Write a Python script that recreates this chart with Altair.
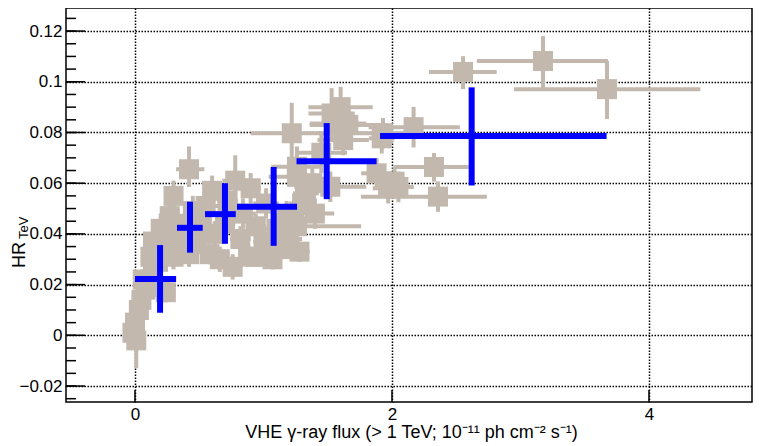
import altair as alt
import pandas as pd

# ---------------- data ----------------
# grey: individual measurements (x = flux, y = HR_TeV) with asymmetric errors
grey_x = [-0.02, 0.01, 0.00, 0.03, 0.05, 0.08, 0.06, 0.11, 0.14, 0.19,
          0.24, 0.12, 0.18, 0.22, 0.14, 0.20, 0.27, 0.30, 0.27, 0.33,
          0.30, 0.36, 0.42, 0.40, 0.45, 0.42, 0.48, 0.52, 0.55, 0.58,
          0.62, 0.60, 0.66, 0.70, 0.72, 0.76, 0.78, 0.82, 0.84, 0.88,
          0.90, 0.94, 0.97, 1.00, 1.02, 1.07, 1.10, 1.14, 1.18, 1.20,
          1.26, 1.28, 1.30, 1.26, 1.26, 1.22, 1.33, 1.40, 1.38, 1.45,
          1.52, 1.53, 1.58, 1.60, 1.62, 1.66, 1.88, 1.93, 1.92, 1.97,
          2.05, 2.02, 2.168, 2.327, 2.358, 2.553, 3.175, 3.673]
grey_y = [0.001, -0.002, 0.005, 0.010, 0.014, 0.018, 0.022, 0.021, 0.026, 0.019,
          0.017, 0.031, 0.029, 0.034, 0.037, 0.042, 0.039, 0.031, 0.047, 0.044,
          0.055, 0.035, 0.032, 0.040, 0.049, 0.0655, 0.036, 0.044, 0.051, 0.032,
          0.040, 0.057, 0.030, 0.044, 0.053, 0.027, 0.061, 0.038, 0.048, 0.031,
          0.058, 0.043, 0.031, 0.037, 0.052, 0.030, 0.042, 0.034, 0.047, 0.038,
          0.043, 0.033, 0.052, 0.0625, 0.0665, 0.0797, 0.056, 0.048, 0.060, 0.072,
          0.0586, 0.0875, 0.0835, 0.090, 0.077, 0.083, 0.0639, 0.0797, 0.0777, 0.058,
          0.0585, 0.0606, 0.0821, 0.0664, 0.0547, 0.1039, 0.1082, 0.0971]
grey_exl = [0.03, 0.02, 0.03, 0.03, 0.04, 0.04, 0.03, 0.05, 0.05, 0.04,
            0.05, 0.04, 0.05, 0.06, 0.04, 0.05, 0.06, 0.06, 0.06, 0.07,
            0.05, 0.06, 0.07, 0.06, 0.07, 0.10, 0.06, 0.07, 0.10, 0.07,
            0.08, 0.07, 0.06, 0.08, 0.08, 0.05, 0.10, 0.08, 0.10, 0.06,
            0.08, 0.08, 0.06, 0.08, 0.10, 0.07, 0.10, 0.08, 0.12, 0.10,
            0.10, 0.08, 0.10, 0.22, 0.20, 0.32, 0.10, 0.15, 0.12, 0.20,
            0.28, 0.18, 0.22, 0.25, 0.20, 0.30, 0.12, 0.25, 0.10, 0.12,
            0.12, 0.10, 0.35, 0.31, 0.60, 0.265, 0.515, 0.723]
grey_exh = [0.03, 0.02, 0.03, 0.03, 0.04, 0.04, 0.03, 0.05, 0.05, 0.04,
            0.05, 0.04, 0.05, 0.06, 0.04, 0.05, 0.06, 0.06, 0.06, 0.07,
            0.05, 0.06, 0.07, 0.06, 0.07, 0.12, 0.06, 0.07, 0.10, 0.07,
            0.08, 0.07, 0.06, 0.08, 0.08, 0.05, 0.10, 0.08, 0.10, 0.06,
            0.08, 0.08, 0.06, 0.08, 0.10, 0.07, 0.10, 0.08, 0.12, 0.10,
            0.50, 0.08, 0.10, 0.14, 0.20, 0.30, 0.10, 0.15, 0.12, 0.20,
            0.28, 0.18, 0.22, 0.25, 0.20, 0.30, 0.12, 0.25, 0.10, 0.12,
            0.12, 0.10, 0.36, 0.27, 0.38, 0.262, 0.505, 0.727]
grey_eyl = [0.004, 0.011, 0.005, 0.005, 0.005, 0.005, 0.004, 0.005, 0.006, 0.005,
            0.004, 0.005, 0.005, 0.005, 0.005, 0.006, 0.006, 0.005, 0.006, 0.006,
            0.006, 0.005, 0.005, 0.006, 0.006, 0.007, 0.005, 0.006, 0.006, 0.004,
            0.005, 0.006, 0.005, 0.006, 0.006, 0.005, 0.008, 0.005, 0.006, 0.004,
            0.006, 0.005, 0.004, 0.005, 0.006, 0.004, 0.005, 0.004, 0.006, 0.005,
            0.005, 0.004, 0.006, 0.008, 0.008, 0.012, 0.006, 0.006, 0.006, 0.008,
            0.006, 0.010, 0.008, 0.008, 0.006, 0.006, 0.006, 0.006, 0.006, 0.006,
            0.006, 0.006, 0.008, 0.0058, 0.006, 0.0068, 0.011, 0.0118]
grey_eyh = [0.004, 0.005, 0.005, 0.005, 0.005, 0.005, 0.004, 0.005, 0.006, 0.005,
            0.004, 0.005, 0.005, 0.005, 0.005, 0.006, 0.006, 0.005, 0.006, 0.006,
            0.006, 0.005, 0.005, 0.006, 0.006, 0.009, 0.005, 0.006, 0.006, 0.004,
            0.005, 0.006, 0.005, 0.006, 0.006, 0.005, 0.010, 0.005, 0.006, 0.004,
            0.006, 0.005, 0.004, 0.005, 0.006, 0.004, 0.005, 0.004, 0.006, 0.005,
            0.005, 0.004, 0.006, 0.008, 0.008, 0.012, 0.006, 0.006, 0.006, 0.008,
            0.006, 0.010, 0.008, 0.008, 0.006, 0.006, 0.006, 0.006, 0.006, 0.006,
            0.006, 0.006, 0.008, 0.0055, 0.006, 0.0062, 0.0098, 0.0111]

# blue: binned averages
blue_x = [0.195, 0.428, 0.700, 1.079, 1.492, 2.620]
blue_y = [0.0222, 0.0424, 0.0478, 0.0507, 0.0687, 0.0786]
blue_xlo = [0.000, 0.327, 0.545, 0.794, 1.257, 1.907]
blue_xhi = [0.320, 0.527, 0.784, 1.261, 1.880, 3.670]
blue_ylo = [0.0089, 0.0326, 0.0361, 0.0353, 0.0537, 0.0591]
blue_yhi = [0.0356, 0.0527, 0.0600, 0.0664, 0.0837, 0.0978]

x_ticks = [0, 2, 4]
y_ticks = [-0.02, 0.0, 0.02, 0.04, 0.06, 0.08, 0.1, 0.12]
y_minor = [round(-0.025 + 0.005 * i, 3) for i in range(31)]

x_title = "VHE γ-ray flux (> 1 TeV; 10⁻¹¹ ph cm⁻² s⁻¹)"

# ---------------- layout / style ----------------
W, H = 686, 394
XMIN, XMAX = -0.537, 4.8016
YMIN, YMAX = -0.0263, 0.1291
FONT = "Liberation Sans"
GREY = "#c2b8ae"
BLUE = "#0000ff"

xs = alt.Scale(domain=[XMIN, XMAX], nice=False, zero=False)
ys = alt.Scale(domain=[YMIN, YMAX], nice=False, zero=False)

x_axis = alt.Axis(values=x_ticks, title=None, grid=True, gridDash=[1.5, 1.5], gridColor="black",
                  gridWidth=1.5, gridOpacity=1, ticks=False, domain=False, labelFont=FONT,
                  labelFontSize=17, labelColor="black", labelPadding=4, labelFlush=False)
y_axis = alt.Axis(values=y_ticks, title=None, grid=True, gridDash=[1.5, 1.5], gridColor="black",
                  gridWidth=1.5, gridOpacity=1, ticks=False, domain=False, labelFont=FONT,
                  labelFontSize=17, labelColor="black", labelPadding=4, format="~g",
                  labelFlush=False)


def X(field):
    return alt.X(field, scale=xs, axis=x_axis)


def Y(field):
    return alt.Y(field, scale=ys, axis=y_axis)


grey = pd.DataFrame({
    "x": grey_x, "y": grey_y,
    "xlo": [a - b for a, b in zip(grey_x, grey_exl)],
    "xhi": [a + b for a, b in zip(grey_x, grey_exh)],
    "ylo": [a - b for a, b in zip(grey_y, grey_eyl)],
    "yhi": [a + b for a, b in zip(grey_y, grey_eyh)],
})
blue = pd.DataFrame({"x": blue_x, "y": blue_y, "xlo": blue_xlo, "xhi": blue_xhi,
                     "ylo": blue_ylo, "yhi": blue_yhi})

gbase = alt.Chart(grey)
grey_h = gbase.mark_rule(color=GREY, strokeWidth=4).encode(
    x=X("xlo:Q"), x2="xhi:Q", y=Y("y:Q"))
grey_v = gbase.mark_rule(color=GREY, strokeWidth=4).encode(
    x=X("x:Q"), y=Y("ylo:Q"), y2="yhi:Q")
grey_pt = gbase.mark_square(color=GREY, size=400, opacity=1, filled=True).encode(
    x=X("x:Q"), y=Y("y:Q"))

bbase = alt.Chart(blue)
blue_h = bbase.mark_rule(color=BLUE, strokeWidth=6).encode(
    x=X("xlo:Q"), x2="xhi:Q", y=Y("y:Q"))
blue_v = bbase.mark_rule(color=BLUE, strokeWidth=6).encode(
    x=X("x:Q"), y=Y("ylo:Q"), y2="yhi:Q")

xt = alt.Chart(pd.DataFrame({"v": x_ticks})).mark_rule(color="black", strokeWidth=1.5).encode(
    x=X("v:Q"), y=alt.value(H), y2=alt.value(H - 12))
yt = alt.Chart(pd.DataFrame({"v": y_ticks})).mark_rule(color="black", strokeWidth=1.5).encode(
    y=Y("v:Q"), x=alt.value(0), x2=alt.value(19))
ym = alt.Chart(pd.DataFrame({"v": y_minor})).mark_rule(color="black", strokeWidth=1.5).encode(
    y=Y("v:Q"), x=alt.value(0), x2=alt.value(10))

xtitle = alt.Chart(pd.DataFrame({"t": [x_title]})).mark_text(
    font=FONT, fontSize=18, align="center", baseline="alphabetic", color="black").encode(
    text="t:N", x=alt.value(345.5), y=alt.value(430))
ytitle1 = alt.Chart(pd.DataFrame({"t": ["HR"]})).mark_text(
    font=FONT, fontSize=18, align="left", baseline="alphabetic", angle=270, color="black").encode(
    text="t:N", x=alt.value(-41.5), y=alt.value(260))
ytitle2 = alt.Chart(pd.DataFrame({"t": ["TeV"]})).mark_text(
    font=FONT, fontSize=13, align="left", baseline="alphabetic", angle=270, color="black").encode(
    text="t:N", x=alt.value(-38.5), y=alt.value(231))

chart = alt.layer(grey_h, grey_v, grey_pt, blue_h, blue_v, xt, yt, ym,
                  xtitle, ytitle1, ytitle2).properties(
    width=W, height=H, autosize=alt.AutoSizeParams(type="none"),
    padding={"left": 58, "top": 0, "right": 1, "bottom": 40},
).configure_view(stroke="black", strokeWidth=1.5)

chart.save("out.html", embed_options={"renderer": "svg", "actions": False})
